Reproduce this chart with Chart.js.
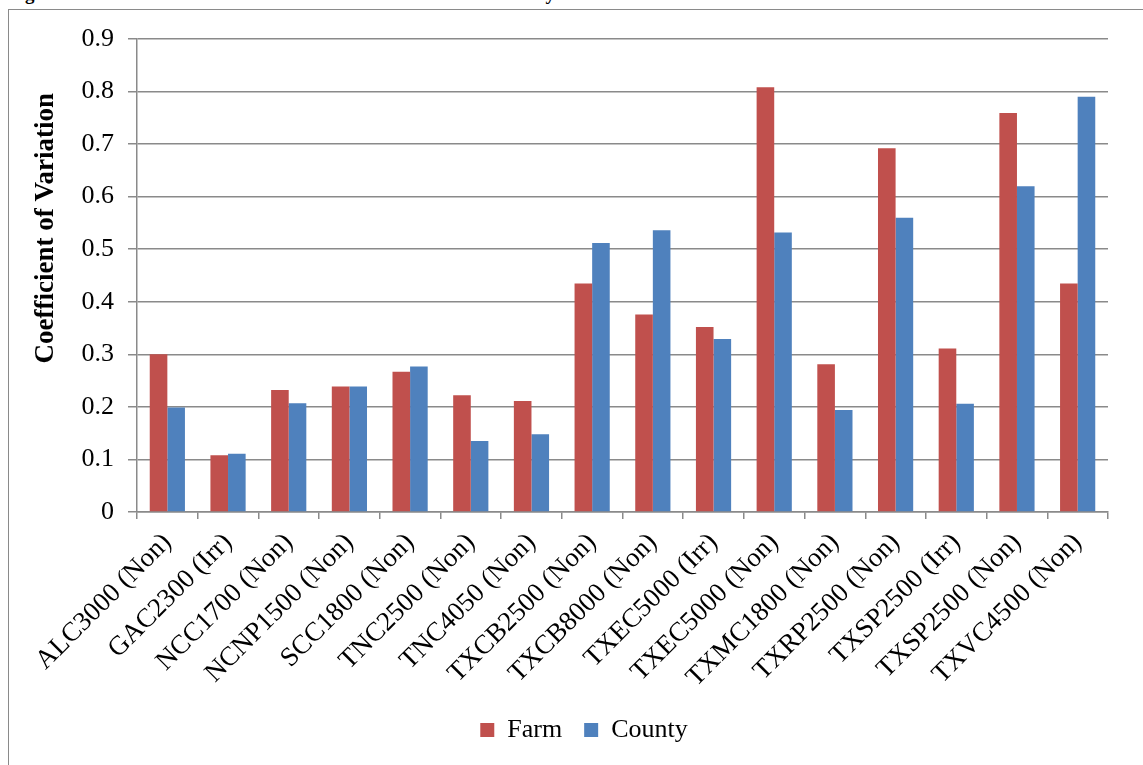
<!DOCTYPE html>
<html>
<head>
<meta charset="utf-8">
<script src="https://cdn.jsdelivr.net/npm/chart.js@4.4.1/dist/chart.umd.min.js"></script>
<style>
  html, body { margin: 0; padding: 0; background: #fff; overflow: hidden; }
  #wrap { position: relative; width: 1143px; height: 765px; overflow: hidden; }
  #frame { position: absolute; left: 8px; top: 9px; width: 1200px; height: 800px; border: 1.5px solid #8a8a8a; box-sizing: border-box; }
  #title { position: absolute; left: 8px; top: -17px; font: bold 19px "Liberation Serif", "Times New Roman", serif; color: #000; white-space: nowrap; line-height: 22px; }
  canvas { position: absolute; left: 0; top: 0; }
</style>
</head>
<body>
<div id="wrap">
  <div id="title">Figure 3. Coefficient of Variation from Historical Farm and County Yields</div>
  <div id="frame"></div>
  <canvas id="c" width="1143" height="765"></canvas>
</div>
<script>
const categories = [
  "ALC3000 (Non)", "GAC2300 (Irr)", "NCC1700 (Non)", "NCNP1500 (Non)",
  "SCC1800 (Non)", "TNC2500 (Non)", "TNC4050 (Non)", "TXCB2500 (Non)",
  "TXCB8000 (Non)", "TXEC5000 (Irr)", "TXEC5000 (Non)", "TXMC1800 (Non)",
  "TXRP2500 (Non)", "TXSP2500 (Irr)", "TXSP2500 (Non)", "TXVC4500 (Non)"
];
const farm   = [0.300, 0.108, 0.232, 0.239, 0.267, 0.222, 0.211, 0.435, 0.376, 0.352, 0.808, 0.281, 0.692, 0.311, 0.759, 0.435];
const county = [0.199, 0.111, 0.207, 0.239, 0.277, 0.135, 0.148, 0.512, 0.536, 0.329, 0.532, 0.194, 0.560, 0.206, 0.620, 0.790];
const yTicks = [0, 0.1, 0.2, 0.3, 0.4, 0.5, 0.6, 0.7, 0.8, 0.9];

const FONT = "'Liberation Serif', 'Times New Roman', serif";
const GRID = '#8a8a8a';

// shift the bottom legend slightly right, as in the reference
const legendShift = {
  id: 'legendShift',
  afterLayout(chart) {
    const l = chart.legend;
    if (l) { l.left += 25; l.right += 25; }
  }
};

new Chart(document.getElementById('c'), {
  type: 'bar',
  data: {
    labels: categories,
    datasets: [
      { label: 'Farm', data: farm, backgroundColor: '#C0504D', borderWidth: 0,
        categoryPercentage: 0.58, barPercentage: 1.0 },
      { label: 'County', data: county, backgroundColor: '#4F81BD', borderWidth: 0,
        categoryPercentage: 0.58, barPercentage: 1.0 }
    ]
  },
  plugins: [legendShift],
  options: {
    responsive: false,
    animation: false,
    devicePixelRatio: 1,
    layout: { padding: { left: 10, top: 39, right: 35, bottom: 12 } },
    plugins: {
      legend: {
        position: 'bottom',
        labels: {
          font: { family: FONT, size: 26 },
          color: '#000',
          boxWidth: 14,
          boxHeight: 14,
          padding: 22
        }
      },
      tooltip: { enabled: false }
    },
    scales: {
      x: {
        grid: { display: true, drawOnChartArea: false, drawTicks: true, tickLength: 7, color: GRID, lineWidth: 1.5, offset: true },
        border: { display: true, color: GRID, width: 1.5 },
        ticks: {
          font: { family: FONT, size: 27 },
          color: '#000',
          maxRotation: 45,
          minRotation: 45,
          autoSkip: false,
          padding: 8
        },
        afterFit: (s) => { s.height = 183; }
      },
      y: {
        min: 0,
        max: 0.9,
        afterBuildTicks: (s) => { s.ticks = yTicks.map(v => ({ value: v })); },
        grid: { color: GRID, lineWidth: 1.5, tickLength: 9, drawTicks: true },
        border: { display: true, color: GRID, width: 1.5 },
        ticks: {
          font: { family: FONT, size: 26 },
          color: '#000',
          padding: 14,
          callback: (v) => (v === 0 ? '0' : v.toFixed(1))
        },
        title: {
          display: true,
          text: '              Coefficient of Variation',
          font: { family: FONT, size: 27, weight: 'bold' },
          color: '#000',
          padding: { top: 20, bottom: 0 }
        },
        afterFit: (s) => { s.width = 127; }
      }
    }
  }
});
</script>
</body>
</html>
